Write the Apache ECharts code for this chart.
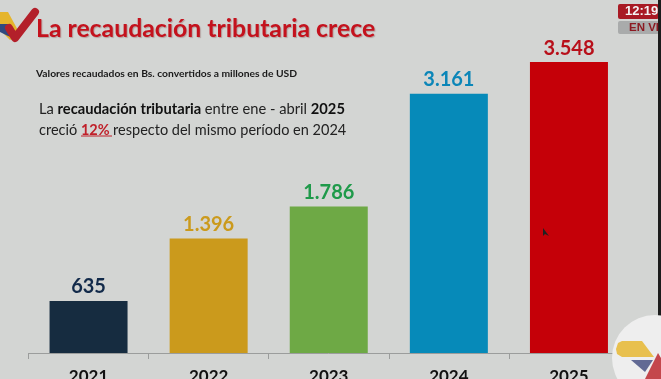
<!DOCTYPE html>
<html><head><meta charset="utf-8">
<style>html,body{margin:0;padding:0;background:#d3d5d3;overflow:hidden}#c{width:661px;height:379px;filter:blur(0.5px)}</style>
<script src="https://cdn.jsdelivr.net/npm/echarts@6/dist/echarts.min.js"></script>
</head><body><div id="c"></div>
<script>
const categories = ['2021','2022','2023','2024','2025'];
const values = [635,1396,1786,3161,3548];
const valueLabels = ['635','1.396','1.786','3.161','3.548'];
const barColors = ['#162c40','#cb9a1c','#6ea945','#068ab9','#c50008'];
const labelColors = ['#122a4a','#cb9a1c','#1f9a4a','#0b86b8','#b8101a'];
const chart = echarts.init(document.getElementById('c'));
const F = 'Lato, "Open Sans", sans-serif';
chart.setOption({
  animation:false,
  backgroundColor:'#d3d5d3',
  grid:{left:28.5,right:32,top:25,bottom:26,outerBoundsMode:'none'},
  xAxis:{type:'category',data:categories,
    axisLine:{lineStyle:{color:'#9b9d9c',width:1}},
    axisTick:{show:true,length:6,lineStyle:{color:'#9b9d9c'}},
    axisLabel:{color:'#111',fontFamily:F,fontWeight:'bold',fontSize:17,margin:15}},
  yAxis:{type:'value',min:0,max:4000,show:false,splitLine:{show:false}},
  series:[{type:'bar',barWidth:78,
    data:values.map((v,i)=>({value:v,itemStyle:{color:barColors[i]},
      label:{show:true,position:'top',distance:4,formatter:valueLabels[i],color:labelColors[i],
        fontFamily:F,fontWeight:'bold',fontSize:20}}))}],
  graphic:[
    {type:'polygon',shape:{points:[[0,12],[8,12],[20,34],[10,40],[0,30]]},style:{fill:'#e5b52c'},z:5},
    {type:'polygon',shape:{points:[[0,24],[9,24],[15,38],[8,36],[0,32]]},style:{fill:'#2f4a80'},z:6},
    {type:'polyline',shape:{points:[[9,28],[15,38],[35,12]]},style:{stroke:'#b3202a',lineWidth:8,lineJoin:'round',lineCap:'round',fill:'none'},z:7},
    {type:'text',left:36,top:17,style:{text:'La recaudación tributaria crece',fill:'#c4121d',font:'bold 24.8px '+F,textShadowColor:'rgba(90,0,0,0.25)',textShadowBlur:1,textShadowOffsetX:1,textShadowOffsetY:1},z:8},
    {type:'text',left:36,top:69,style:{text:'Valores recaudados en Bs. convertidos a millones de USD',fill:'#1a1a1a',font:'bold 10.3px '+F},z:8},
    {type:'text',left:39,top:102,style:{text:'{a|La }{b|recaudación tributaria }{a|entre ene - abril }{b|2025}',rich:{a:{font:'14.7px '+F,fill:'#222'},b:{font:'bold 14.7px '+F,fill:'#111'}}},z:8},
    {type:'text',left:39,top:123,style:{text:'{a|creció }{r|12% }{a|respecto del mismo período en 2024}',rich:{a:{font:'14.5px '+F,fill:'#222'},r:{font:'bold 14.5px '+F,fill:'#c0202a'}}},z:8},
    {type:'line',shape:{x1:81,y1:136,x2:112,y2:136},style:{stroke:'#c0202a',lineWidth:1},z:8},
    {type:'rect',shape:{x:618,y:4,width:41,height:15,r:2},style:{fill:'#a81a24'},z:9},
    {type:'rect',shape:{x:618,y:21,width:41,height:13,r:2},style:{fill:'#a9abab'},z:9},
    {type:'text',left:625,top:5,style:{text:'12:19',fill:'#f4f4f4',font:'bold 13px "Liberation Sans"'},z:10},
    {type:'text',left:629,top:22,style:{text:'EN VI',fill:'#8c1a22',font:'bold 11.5px "Liberation Sans"'},z:10},
    {type:'rect',shape:{x:658,y:0,width:3,height:379},style:{fill:'#1c1c1c'},z:9},
    {type:'circle',shape:{cx:655,cy:358,r:43},style:{fill:'#eeeeee'},z:11},
    {type:'polygon',shape:{points:[[622,341],[642,341],[654,357],[622,357],[617,354],[616,349],[618,343]]},style:{fill:'#e8c04e'},z:12},
    {type:'polygon',shape:{points:[[631,360],[653,360],[645,372]]},style:{fill:'#626a94'},z:12},
    {type:'polygon',shape:{points:[[658,353],[661,358],[661,379],[645,379]]},style:{fill:'#c4474c'},z:13},
    {type:'polygon',shape:{points:[[543,228],[543,236],[545,234],[549,236]]},style:{fill:'#222'},z:13}
  ]
});
</script></body></html>
